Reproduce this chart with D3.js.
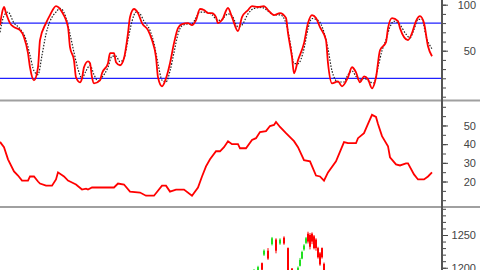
<!DOCTYPE html>
<html lang="en">
<head>
  <title>Stochastic / ADX / Price</title>
  <style type="text/css">
    body { margin: 0; background: #fff; }
    svg { display: block; }
    .tick text { font-family: Arial, "Liberation Sans", sans-serif; font-size: 11px; fill: #444; }
    .tick line { stroke: #444; }
  </style>
  <script src="https://cdnjs.cloudflare.com/ajax/libs/d3/7.8.5/d3.min.js"></script>
</head>
<body>
<div id="chart"></div>
<script>
  // stochastic %K (red) - day index, value
  var kDay = [0,1,2,3,5,7,10,12,14,15,17,19,20,23,25,28,31,34,35,37,38,40,41,42,44,45,46,47,50,51,54,55,57,58,60,62,64,65,67,69,71,74,76,78,79,81,83,85,87,89,91,94,96,98,100,102,104,106,108,109,111,114,116,119,121,124,126,129,132,134,137,140,143,144,146,147,149,152,154,156,158,160,163,164,166,169,171,174,176,178,180,182,184,186,188,190,193,194,196,199,200,204,206,208,210,212,214,216];
  var kVal = [77.8,90.9,97.5,90.9,80,75.6,72.4,64.7,47.3,32,17.8,32,61.5,80,88.7,98.5,92,75.6,53.8,39.6,21.1,15.6,20,32,38.5,36.4,21.1,14.5,17.8,25.5,36.4,47.3,47.3,37.5,34.2,41.8,69.1,86.5,95.3,90.9,80,72.4,61.5,42.9,21.1,11.3,20,36.4,58.2,74.5,78.9,80,77.8,83.3,95.3,94.2,90.9,90.9,86.5,80,83.3,96.4,86.5,71.3,86.5,94.2,98.5,97.5,98.5,94.2,88.7,90.9,85.5,69.1,42.9,25.5,39.6,58.2,80,88.7,85.5,75.6,61.5,36.4,14.5,16.7,11.3,21.1,32,26.5,15.6,22.2,18.9,9.1,21.1,50.5,59.3,74.5,85.5,82.2,74.5,61.5,69.1,82.2,87.6,80,54.9,44];

  // stochastic %D (dotted)
  var dDay = [0,2,4,7,10,13,15,17,19,21,23,25,28,30,33,35,37,39,41,43,45,47,49,51,54,56,58,60,62,64,66,68,70,72,75,77,79,81,83,85,87,89,91,94,96,98,100,103,106,109,111,114,116,119,121,124,127,131,134,137,140,143,145,147,149,152,154,156,159,162,164,166,169,172,174,176,178,180,182,185,187,189,191,193,195,197,200,203,205,207,209,211,213,216];
  var dVal = [70,88,92,80,74,62,45,28,24,45,68,82,92,96,86,68,48,30,20,28,34,24,17,21,32,44,44,38,42,62,82,92,90,82,72,58,36,18,16,28,48,68,77,79,79,86,92,92,89,83,84,90,88,76,78,90,96,97,93,89,89,80,60,36,36,52,74,85,83,70,52,28,16,16,24,28,22,18,20,16,15,32,50,62,76,82,78,68,64,73,84,84,66,52];

  // middle indicator
  var aDay = [0,2,4,7,9,11,14,15,17,19,20,23,26,28,29,32,34,36,38,41,43,44,46,50,57,59,62,65,70,73,77,81,83,85,88,92,96,99,101,103,105,108,110,112,114,116,119,120,123,126,128,130,133,135,137,138,140,143,145,147,149,152,155,158,160,162,164,168,172,174,178,179,182,184,186,188,189,191,194,195,198,200,203,204,207,209,212,214,216];
  var aVal = [41.2,38.4,31.9,25.4,23.2,20.5,20.5,22.7,22.7,20,18.9,17.8,17.8,21.1,24.9,22.7,20.5,19.5,18.4,15.7,16.2,15.7,16.8,16.8,16.8,18.9,18.4,14.6,14.1,12.4,12.4,17.8,17.8,14.6,15.7,15.7,12.4,16.8,22.7,28.1,31.9,36.2,36.2,38.4,41.6,40,40,37.8,37.8,42.2,43.2,46.5,47,49.7,50.3,51.9,49.2,45.9,43.8,41.6,38.4,31.4,30.8,23.2,22.7,20.5,24.9,30.8,41.1,40.5,40.5,43.2,45.9,50.8,55.7,54.6,50.8,44.3,38.9,33,29.2,28.6,29.7,29.7,23.8,21.1,21.1,22.7,24.9];

  // price bars (only the visible part)
  var cDay = [127,129,131,132,134,136,138,140,142,144,146,149,150,151,152,153,154,155,156,157,158,159,160,161,162];
  var cOpen = [1185,1192,1207,1220,1226,1236,1243,1237,1246,1230,1199,1188,1203,1214,1228,1238,1252,1250,1252,1248,1243,1230,1222,1230,1206];
  var cHigh = [1198,1203,1208,1228,1230,1247,1245,1245,1248,1231,1199,1202,1215,1226,1236,1247,1255,1253,1254,1250,1245,1232,1224,1231,1208];
  var cLow = [1182,1188,1194,1218,1212,1234,1222,1235,1235,1180,1190,1185,1202,1213,1226,1236,1237,1228,1236,1228,1226,1214,1203,1214,1190];
  var cClose = [1192,1201,1197,1226,1214,1245,1226,1243,1237,1188,1194,1200,1212,1224,1234,1245,1240,1232,1240,1230,1230,1216,1205,1216,1193];

  var stochLevels = [80, 20];
  var stochTicks = [100, 50];
  var adxTicks = [20, 30, 40, 50];
  var priceTicks = [1200, 1250];

  var w = 480, h = 270, axisX = 442;

  var svg = d3.select("#chart").append("svg")
    .attr("width", w)
    .attr("height", h);

  var x = d3.scaleLinear().domain([0, 220]).range([0, 440]);

  var yTop = d3.scaleLinear().domain([0, 105]).range([96.7, 0.1]);
  var yMid = d3.scaleLinear().domain([6.9, 63.1]).range([206, 101]);
  var yBot = d3.scaleLinear().domain([1150, 1300]).range([300.5, 202.25]);

  function zip(a, b) {
    return a.map(function(d, i) { return [d, b[i]]; });
  }

  function clip(id, y0, y1) {
    svg.append("clipPath").attr("id", id)
      .append("rect").attr("x", 0).attr("y", y0).attr("width", axisX - 1).attr("height", y1 - y0);
  }
  clip("c1", 0, 100);
  clip("c2", 102, 206);
  clip("c3", 208, 270);

  // panel separators
  [100.5, 207].forEach(function(yy) {
    svg.append("line")
      .attr("x1", 0).attr("x2", w).attr("y1", yy).attr("y2", yy)
      .attr("stroke", "#a0a0a0").attr("stroke-width", 2);
  });

  // top panel
  var g1 = svg.append("g").attr("clip-path", "url(#c1)");
  g1.selectAll("line.lvl")
    .data(stochLevels)
    .enter().append("line")
    .attr("class", "lvl")
    .attr("x1", 0).attr("x2", axisX)
    .attr("y1", function(d) { return yTop(d); })
    .attr("y2", function(d) { return yTop(d); })
    .attr("stroke", "#2020ff").attr("stroke-width", 1.3);

  var lineTop = d3.line()
    .x(function(d) { return x(d[0]); })
    .y(function(d) { return yTop(d[1]); })
    .curve(d3.curveMonotoneX);

  g1.append("path")
    .attr("d", lineTop(zip(dDay, dVal)))
    .attr("fill", "none").attr("stroke", "#222")
    .attr("stroke-width", 1.2).attr("stroke-dasharray", "1.5,1.5");

  g1.append("path")
    .attr("d", lineTop(zip(kDay, kVal)))
    .attr("fill", "none").attr("stroke", "#ff0000").attr("stroke-width", 1.8);

  // middle panel
  var g2 = svg.append("g").attr("clip-path", "url(#c2)");
  var lineMid = d3.line()
    .x(function(d) { return x(d[0]); })
    .y(function(d) { return yMid(d[1]); });
  g2.append("path")
    .attr("d", lineMid(zip(aDay, aVal)))
    .attr("fill", "none").attr("stroke", "#ff0000").attr("stroke-width", 1.8);

  // bottom panel - price bars
  var g3 = svg.append("g").attr("clip-path", "url(#c3)");
  var bars = cDay.map(function(d, i) {
    return { day: d, o: cOpen[i], hi: cHigh[i], lo: cLow[i], c: cClose[i] };
  });
  var barColor = function(d) { return d.c >= d.o ? "#20e020" : "#ff0000"; };

  g3.selectAll("line.wick")
    .data(bars)
    .enter().append("line")
    .attr("class", "wick")
    .attr("x1", function(d) { return x(d.day); })
    .attr("x2", function(d) { return x(d.day); })
    .attr("y1", function(d) { return yBot(d.hi); })
    .attr("y2", function(d) { return yBot(d.lo); })
    .attr("stroke", barColor).attr("stroke-width", 1);

  g3.selectAll("rect.body")
    .data(bars)
    .enter().append("rect")
    .attr("class", "body")
    .attr("x", function(d) { return x(d.day) - 1; })
    .attr("width", 2)
    .attr("y", function(d) { return yBot(Math.max(d.o, d.c)); })
    .attr("height", function(d) { return Math.max(1, Math.abs(yBot(d.o) - yBot(d.c))); })
    .attr("fill", barColor);

  // right axes
  function drawAxis(scale, minorStep, majors, y0, y1) {
    var lo = scale.invert(y1), hi = scale.invert(y0);
    var minor = d3.range(Math.ceil(lo / minorStep) * minorStep, hi + 0.001, minorStep);
    svg.append("g")
      .attr("transform", "translate(" + axisX + ",0)")
      .call(d3.axisRight(scale).tickValues(minor).tickSize(4).tickFormat(""))
      .call(function(g) { g.select(".domain").remove(); });
    var ga = svg.append("g")
      .attr("transform", "translate(" + axisX + ",0)")
      .call(d3.axisRight(scale).tickValues(majors).tickSize(6).tickFormat(d3.format("d")))
      .call(function(g) { g.select(".domain").remove(); });
    ga.selectAll(".tick text").attr("x", 34).attr("text-anchor", "end");
  }

  drawAxis(yTop, 10, stochTicks, 0, 100);
  drawAxis(yMid, 5, adxTicks, 102, 206);
  drawAxis(yBot, 10, priceTicks, 208, 270);

  svg.append("line")
    .attr("x1", axisX).attr("x2", axisX).attr("y1", 0).attr("y2", h)
    .attr("stroke", "#555").attr("stroke-width", 2);
</script>
</body>
</html>
